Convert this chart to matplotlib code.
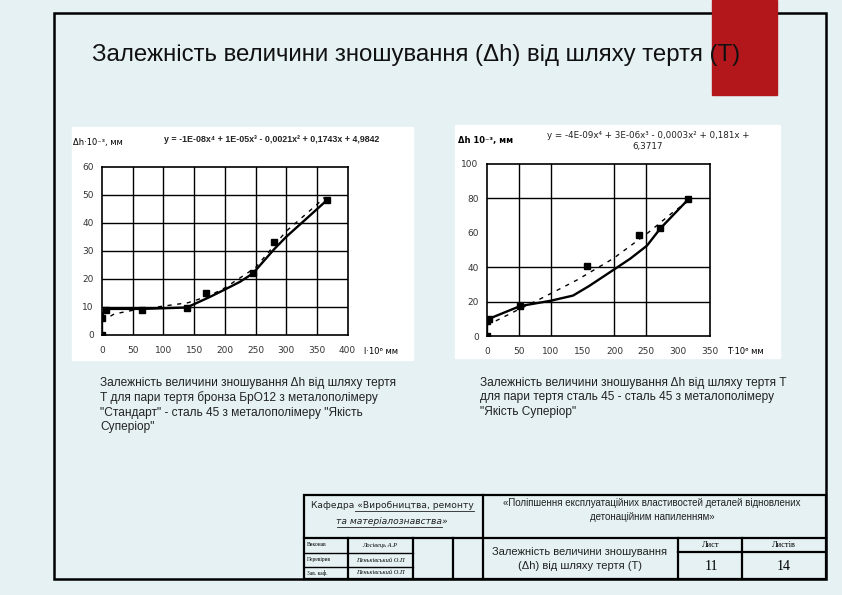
import matplotlib
matplotlib.use("Agg")
import matplotlib.pyplot as plt
from matplotlib.patches import Rectangle

plt.rcParams['font.family'] = ['Liberation Sans', 'DejaVu Sans']

W, H = 842, 595

# ---- data ----
# left: bronze BrO12 / steel 45
left_sq_x = [0, 0, 7, 65, 138, 169, 246, 280, 366]
left_sq_y = [0, 6, 9, 9, 9.8, 15, 22, 33, 48]
left_line_x = [0, 0, 7, 65, 138, 150, 175, 200, 225, 246, 280, 300, 328, 366]
left_line_y = [0, 7, 9.3, 9.3, 9.8, 11, 13.5, 16.2, 19, 22, 30.5, 35, 40.5, 48]
left_trend_x = [0, 20, 50, 100, 140, 175, 200, 250, 300, 350, 362]
left_trend_y = [5, 7.5, 8.8, 10.3, 11.5, 14, 16.8, 24, 37, 46.5, 49]
left_xticks = [0, 50, 100, 150, 200, 250, 300, 350, 400]
left_yticks = [0, 10, 20, 30, 40, 50, 60]
left_eq = "y = -1E-08x⁴ + 1E-05x³ - 0,0021x² + 0,1743x + 4,9842"

# right: steel 45 / steel 45
right_sq_x = [0, 0, 3, 52, 157, 239, 272, 316]
right_sq_y = [0, 8.5, 10, 17.4, 40.5, 58.5, 62.5, 79.5]
right_line_x = [0, 0, 3, 52, 100, 135, 160, 202, 225, 251, 272, 316]
right_line_y = [0, 8.5, 10, 17.4, 20.5, 23.5, 29, 39.3, 45, 52.5, 62.5, 79.5]
right_trend_x = [0, 15, 50, 86, 141, 198, 251, 292, 318]
right_trend_y = [6.4, 9, 15.5, 22, 32.5, 45, 59.5, 72, 79]
right_xticks = [0, 50, 100, 150, 200, 250, 300, 350]
right_yticks = [0, 20, 40, 60, 80, 100]
right_eq = "y = -4E-09x⁴ + 3E-06x³ - 0,0003x² + 0,181x +\n6,3717"

# gridlines that actually show in the scanned charts
left_vgrid = [50, 100, 150, 200, 250, 300, 350]
left_hgrid = [10, 20, 30, 40, 50]
right_vgrid = [50, 100, 200, 250]
right_hgrid = [20, 40, 80]

title = "Залежність величини зношування (Δh) від шляху тертя (T)"
cap_left = ("Залежність величини зношування Δh від шляху тертя\n"
            "Т для пари тертя бронза БрО12 з металополімеру\n"
            "\"Стандарт\" - сталь 45 з металополімеру \"Якість\n"
            "Суперіор\"")
cap_right = ("Залежність величини зношування Δh від шляху тертя Т\n"
             "для пари тертя сталь 45 - сталь 45 з металополімеру\n"
             "\"Якість Суперіор\"")

bg_col = '#e5f1f3'

fig = plt.figure(figsize=(W / 100, H / 100), dpi=100)
fig.patch.set_facecolor(bg_col)

bg = fig.add_axes([0, 0, 1, 1])
bg.set_xlim(0, W)
bg.set_ylim(H, 0)
bg.axis('off')


def px_axes(l, t, r, b):
    return fig.add_axes([l / W, 1 - b / H, (r - l) / W, (b - t) / H])


# page frame + red tab
bg.add_patch(Rectangle((54, 13), 826 - 54, 579 - 13, fill=False, lw=1.8, ec='black'))
bg.add_patch(Rectangle((712, 0), 65, 95, color='#b3161b', zorder=3))
bg.text(92, 55, title, fontsize=17.3, va='center', ha='left', zorder=4, color='#111111')

# white chart pictures
bg.add_patch(Rectangle((72, 127), 341, 233, color='white', zorder=1))
bg.add_patch(Rectangle((455, 125), 325, 233, color='white', zorder=1))


def draw_chart(ax, sqx, sqy, lx, ly, tx, ty, xt, yt, vg, hg):
    ax.set_facecolor('white')
    for v in vg:
        ax.axvline(v, color='black', lw=1.0, zorder=1)
    for h in hg:
        ax.axhline(h, color='black', lw=1.0, zorder=1)
    ax.plot(tx, ty, color='black', lw=1.0, ls=(0, (3, 4)), zorder=2)
    ax.plot(lx, ly, color='black', lw=1.7, zorder=3)
    ax.plot(sqx, sqy, ls='none', marker='s', ms=4, color='black', zorder=4)
    ax.set_xlim(xt[0], xt[-1])
    ax.set_ylim(yt[0], yt[-1])
    ax.set_xticks(xt)
    ax.set_yticks(yt)
    ax.tick_params(length=0, labelsize=6.5, labelcolor='#333333')
    ax.tick_params(axis='x', pad=8)
    ax.tick_params(axis='y', pad=6)
    for s in ax.spines.values():
        s.set_linewidth(1.2)
    for lab in ax.get_xticklabels() + ax.get_yticklabels():
        lab.set_family('DejaVu Sans')


axl = px_axes(102, 166.7, 347.6, 335)
draw_chart(axl, left_sq_x, left_sq_y, left_line_x, left_line_y,
           left_trend_x, left_trend_y, left_xticks, left_yticks, left_vgrid, left_hgrid)
axr = px_axes(487, 164, 710, 336)
draw_chart(axr, right_sq_x, right_sq_y, right_line_x, right_line_y,
           right_trend_x, right_trend_y, right_xticks, right_yticks, right_vgrid, right_hgrid)

# chart annotations
bg.text(73, 143, "Δh·10⁻³, мм", fontsize=6, ha='left', va='center', family='DejaVu Sans', zorder=5)
bg.text(272, 139, left_eq, fontsize=6.4, ha='center', va='center',
        weight='bold', color='#222222', zorder=5)
bg.text(364, 352, "l·10⁶ мм", fontsize=6, ha='left', va='center', family='DejaVu Sans', zorder=5)
bg.text(458, 141, "Δh 10⁻³, мм", fontsize=6, ha='left', va='center', family='DejaVu Sans',
        weight='bold', zorder=5)
bg.text(648, 141, right_eq, fontsize=6.3, ha='center', va='center', family='DejaVu Sans',
        color='#222222', linespacing=1.2, zorder=5)
bg.text(727, 352, "T·10⁶ мм", fontsize=6, ha='left', va='center', family='DejaVu Sans', zorder=5)

# captions
bg.text(100, 377, cap_left, fontsize=8.6, ha='left', va='top', linespacing=1.25, color='#222222')
bg.text(480, 377, cap_right, fontsize=8.6, ha='left', va='top', linespacing=1.25, color='#222222')

# ---- title block table ----
tlw = 1.6
bg.add_patch(Rectangle((304, 495), 826 - 304, 579 - 495, fill=False, lw=tlw, ec='black'))
bg.plot([483, 483], [495, 579], color='black', lw=tlw)
bg.plot([304, 826], [538, 538], color='black', lw=tlw)
for x in [348, 413, 453]:
    bg.plot([x, x], [538, 579], color='black', lw=tlw)
for y in [553, 567]:
    bg.plot([304, 413], [y, y], color='black', lw=1.0)
for x in [678, 742]:
    bg.plot([x, x], [538, 579], color='black', lw=tlw)
bg.plot([678, 826], [552, 552], color='black', lw=tlw)

bg.text(392, 505, "Кафедра «Виробництва, ремонту", fontsize=6.6, ha='center', va='center',
        family='DejaVu Sans', color='#222222')
bg.text(392, 521, "та матеріалознавства»", fontsize=6.6, ha='center', va='center',
        style='italic', family='DejaVu Sans', color='#222222')
bg.plot([355, 474], [511, 511], color='#222222', lw=0.6)
bg.plot([337, 442], [527, 527], color='#222222', lw=0.6)

bg.text(652, 510, "«Поліпшення експлуатаційних властивостей деталей відновлених\nдетонаційним напиленням»",
        fontsize=7.0, ha='center', va='center', linespacing=1.5, color='#222222')
bg.text(580, 559, "Залежність величини зношування\n(Δh) від шляху тертя (T)", fontsize=8.0,
        ha='center', va='center', linespacing=1.45, color='#222222')
bg.text(711, 545, "Лист", fontsize=6, ha='center', va='center', family='Liberation Serif')
bg.text(784, 545, "Листів", fontsize=6, ha='center', va='center', family='Liberation Serif')
bg.text(711, 567, "11", fontsize=10, ha='center', va='center', family='Liberation Serif')
bg.text(784, 567, "14", fontsize=10, ha='center', va='center', family='Liberation Serif')

rows = [("Виконав", "Лосівець А.Р"), ("Перевірив", "Пеньківський О.П"), ("Зав. каф.", "Пеньківський О.П")]
for (role, name), y in zip(rows, [545, 560, 573]):
    bg.text(307, y, role, fontsize=4, ha='left', va='center', family='Liberation Serif')
    bg.text(380, y, name, fontsize=4.6, ha='center', va='center', family='Liberation Serif', style='italic')

fig.savefig('out.png', dpi=100, facecolor=bg_col)
